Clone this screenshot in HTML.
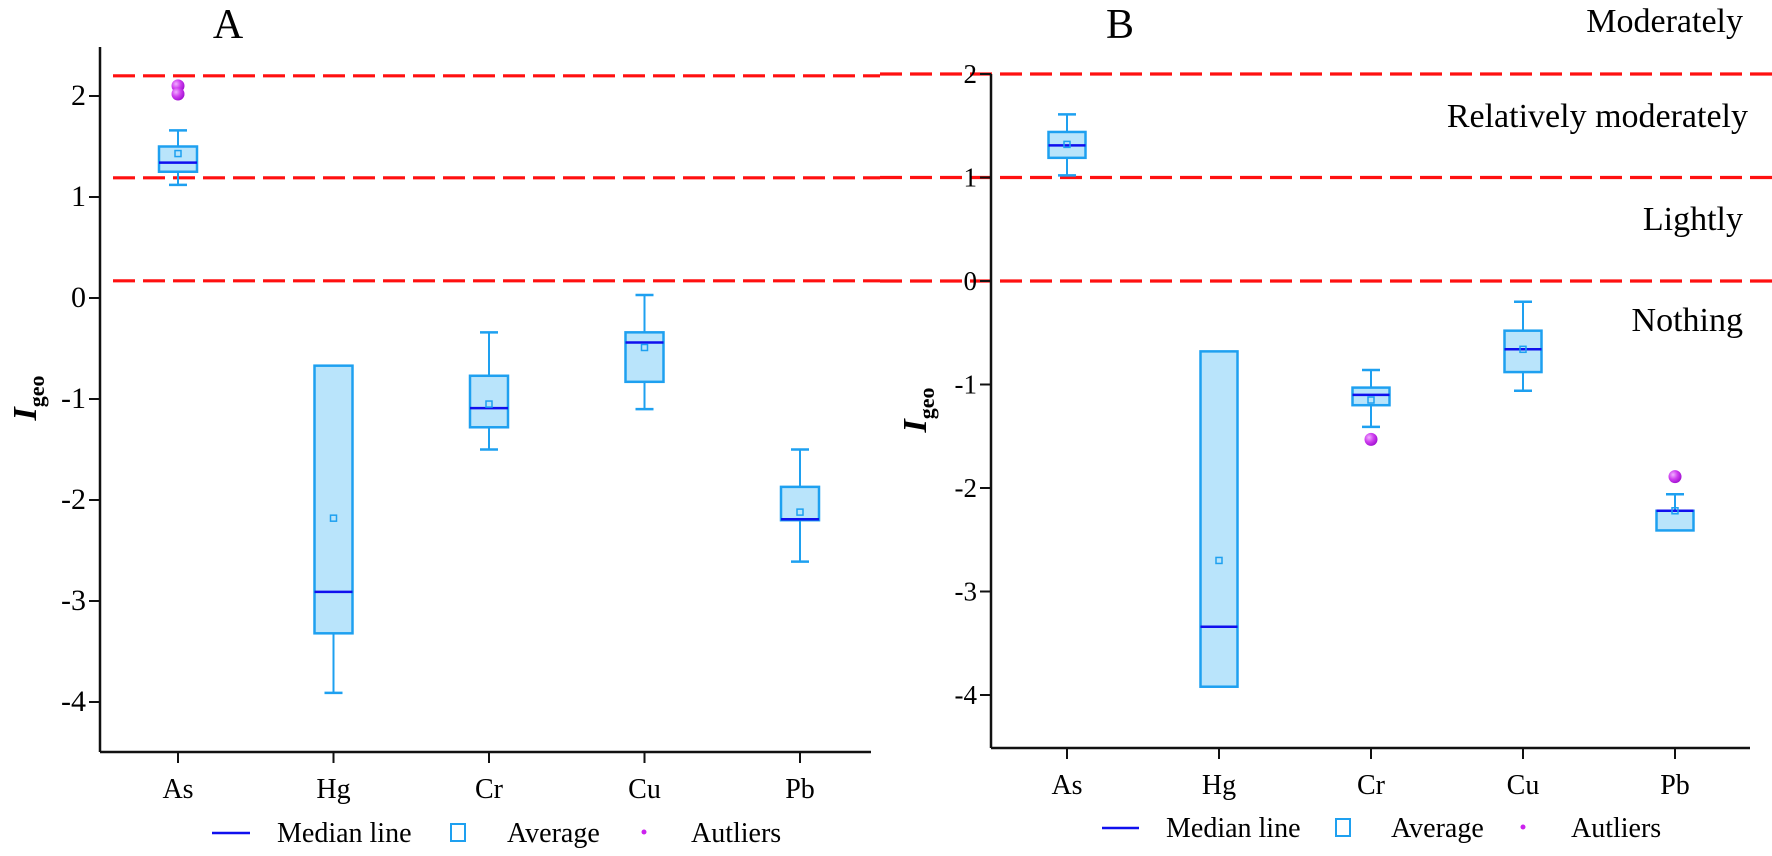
<!DOCTYPE html>
<html><head><meta charset="utf-8"><style>
html,body{margin:0;padding:0;background:#fff;}
svg{display:block;font-family:"Liberation Serif",serif;}
</style></head><body>
<svg id="chart" width="1772" height="856" viewBox="0 0 1772 856" xmlns="http://www.w3.org/2000/svg">
<defs>
<radialGradient id="og" cx="0.35" cy="0.35" r="0.7"><stop offset="0" stop-color="#f0b0ff"/><stop offset="0.5" stop-color="#d040f0"/><stop offset="1" stop-color="#a010d0"/></radialGradient>
</defs>
<g id="lines"></g>
<g id="pA"></g>
<g id="pB"></g>
<text x="1743" y="32" text-anchor="end" font-size="34">Moderately</text>
<text x="1748" y="119" text-anchor="end" font-size="34" dominant-baseline="middle">Relatively moderately</text>
<text x="1743" y="222" text-anchor="end" font-size="34" dominant-baseline="middle">Lightly</text>
<text x="1743" y="323" text-anchor="end" font-size="34" dominant-baseline="middle">Nothing</text>
</svg>
<script>
const categories = ["As","Hg","Cr","Cu","Pb"];
const ticksA = [2,1,0,-1,-2,-3,-4];
const ticksB = [2,1,0,-1,-2,-3,-4];
// panel A stats
const aLow  = [1.12,-3.91,-1.50,-1.10,-2.61];
const aQ1   = [1.25,-3.32,-1.28,-0.83,-2.20];
const aMed  = [1.34,-2.91,-1.09,-0.44,-2.19];
const aQ3   = [1.50,-0.67,-0.77,-0.34,-1.87];
const aHigh = [1.66,-0.67,-0.34,0.03,-1.50];
const aMean = [1.43,-2.18,-1.05,-0.49,-2.12];
const aOutCat = [0,0];
const aOutVal = [2.10,2.02];
const aThresh = [2.2,1.19,0.17];
// panel B stats
const bLow  = [1.02,-3.92,-1.41,-1.06,-2.41];
const bQ1   = [1.19,-3.92,-1.20,-0.88,-2.41];
const bMed  = [1.31,-3.34,-1.10,-0.66,-2.22];
const bQ3   = [1.44,-0.68,-1.03,-0.48,-2.22];
const bHigh = [1.61,-0.68,-0.86,-0.20,-2.06];
const bMean = [1.32,-2.70,-1.15,-0.66,-2.22];
const bOutCat = [2,4];
const bOutVal = [-1.53,-1.89];
const bThresh = [2,1,0];

const NS="http://www.w3.org/2000/svg";
function mk(parent,tag,attrs,text){const e=document.createElementNS(NS,tag);for(const k in attrs)e.setAttribute(k,attrs[k]);if(text!==undefined)e.textContent=text;parent.appendChild(e);return e;}

const BOX="#1ea0f0", FILL="#b9e4fb", MED="#1010ee";

function panel(g,cfg){
  const y=v=>cfg.y0-cfg.k*v;
  const x=i=>cfg.x0+cfg.dx*i;
  // axes
  let e=mk(g,"line",{x1:cfg.ax,y1:cfg.top,x2:cfg.ax,y2:cfg.bot,stroke:"#111","stroke-width":2.5});
  
  
  e=mk(g,"line",{x1:cfg.ax,y1:cfg.bot,x2:cfg.axEnd,y2:cfg.bot,stroke:"#111","stroke-width":2.5});
  
  
  cfg.ticks.forEach(t=>{
    const l=mk(g,"line",{x1:cfg.ax-11,y1:y(t),x2:cfg.ax,y2:y(t),stroke:"#111","stroke-width":2});
    
    
    const tx=mk(g,"text",{x:cfg.ax-14,y:y(t)+9,"text-anchor":"end","font-size":cfg.tfs},String(t));
    
    
  });
  categories.forEach((c,i)=>{
    const l=mk(g,"line",{x1:x(i),y1:cfg.bot,x2:x(i),y2:cfg.bot+11,stroke:"#111","stroke-width":2});
    
    
    const tx=mk(g,"text",{x:x(i),y:cfg.bot+46,"text-anchor":"middle","font-size":28},c);
    
    
  });
  // boxes
  const hw=cfg.bw/2, cw=9;
  categories.forEach((c,i)=>{
    const bg=mk(g,"g",{});
    
    
    const cx=x(i);
    if(cfg.high[i]>cfg.q3[i]){
      mk(bg,"line",{x1:cx,y1:y(cfg.high[i]),x2:cx,y2:y(cfg.q3[i]),stroke:BOX,"stroke-width":2});
      mk(bg,"line",{x1:cx-cw,y1:y(cfg.high[i]),x2:cx+cw,y2:y(cfg.high[i]),stroke:BOX,"stroke-width":2.5});
    }
    if(cfg.low[i]<cfg.q1[i]){
      mk(bg,"line",{x1:cx,y1:y(cfg.q1[i]),x2:cx,y2:y(cfg.low[i]),stroke:BOX,"stroke-width":2});
      mk(bg,"line",{x1:cx-cw,y1:y(cfg.low[i]),x2:cx+cw,y2:y(cfg.low[i]),stroke:BOX,"stroke-width":2.5});
    }
    mk(bg,"rect",{x:cx-hw,y:y(cfg.q3[i]),width:cfg.bw,height:Math.max(1,y(cfg.q1[i])-y(cfg.q3[i])),fill:FILL,stroke:BOX,"stroke-width":2.5});
    mk(bg,"line",{x1:cx-hw,y1:y(cfg.med[i]),x2:cx+hw,y2:y(cfg.med[i]),stroke:MED,"stroke-width":2.5});
    mk(bg,"rect",{x:cx-3,y:y(cfg.mean[i])-3,width:6,height:6,fill:"none",stroke:BOX,"stroke-width":1.5});
  });
  cfg.outCat.forEach((ci,j)=>{
    const o=mk(g,"circle",{cx:x(ci),cy:y(cfg.outVal[j]),r:6.5,fill:"url(#og)"});
    
    
  });
  // title
  const t=mk(g,"text",{x:cfg.titleX,y:38,"text-anchor":"middle","font-size":42},cfg.title);
  
  
  // y-axis title
  const yt=mk(g,"text",{transform:`translate(${cfg.ytX},${cfg.ytY}) rotate(-90)`,"text-anchor":"middle","font-weight":"bold","font-size":34});
  
  
  mk(yt,"tspan",{"font-style":"italic"},"I");
  mk(yt,"tspan",{"font-size":22,dy:8},"geo");
  // legend
  const L=cfg.leg, lg=mk(g,"g",{});
  
  
  mk(lg,"line",{x1:L[0],y1:cfg.ly,x2:L[1],y2:cfg.ly,stroke:MED,"stroke-width":2.5});
  mk(lg,"text",{x:L[2],y:cfg.ly+9,"font-size":28},"Median line");
  mk(lg,"rect",{x:L[3],y:cfg.ly-9,width:14,height:17,fill:"none",stroke:BOX,"stroke-width":2});
  mk(lg,"text",{x:L[4],y:cfg.ly+9,"font-size":28},"Average");
  mk(lg,"circle",{cx:L[5],cy:cfg.ly-1,r:2.5,fill:"#cc22ee"});
  mk(lg,"text",{x:L[6],y:cfg.ly+9,"font-size":28},"Autliers");
}

// threshold dashed lines
const lines=document.getElementById("lines");
aThresh.forEach(v=>{
  const l=mk(lines,"line",{x1:113,y1:298-101*v,x2:880,y2:298-101*v,stroke:"#ff1010","stroke-width":3.2,"stroke-dasharray":"22 8"});
  
  
});
bThresh.forEach(v=>{
  const l=mk(lines,"line",{x1:880,y1:281-103.5*v,x2:1772,y2:281-103.5*v,stroke:"#ff1010","stroke-width":3.2,"stroke-dasharray":"22 8"});
  
  
});

panel(document.getElementById("pA"),{y0:298,k:101,x0:178,dx:155.5,ax:100,axEnd:871,top:47,bot:752,ticks:ticksA,tfs:30,bw:38,
  low:aLow,q1:aQ1,med:aMed,q3:aQ3,high:aHigh,mean:aMean,outCat:aOutCat,outVal:aOutVal,
  title:"A",titleX:228,ytX:36,ytY:398,leg:[212,250,277,451,507,644,691],ly:833});
panel(document.getElementById("pB"),{y0:281,k:103.5,x0:1067,dx:152,ax:991,axEnd:1750,top:74,bot:748,ticks:ticksB,tfs:27,bw:37,
  low:bLow,q1:bQ1,med:bMed,q3:bQ3,high:bHigh,mean:bMean,outCat:bOutCat,outVal:bOutVal,
  title:"B",titleX:1120,ytX:926,ytY:410,leg:[1102,1139,1166,1336,1391,1523,1571],ly:828});
</script>
</body></html>
